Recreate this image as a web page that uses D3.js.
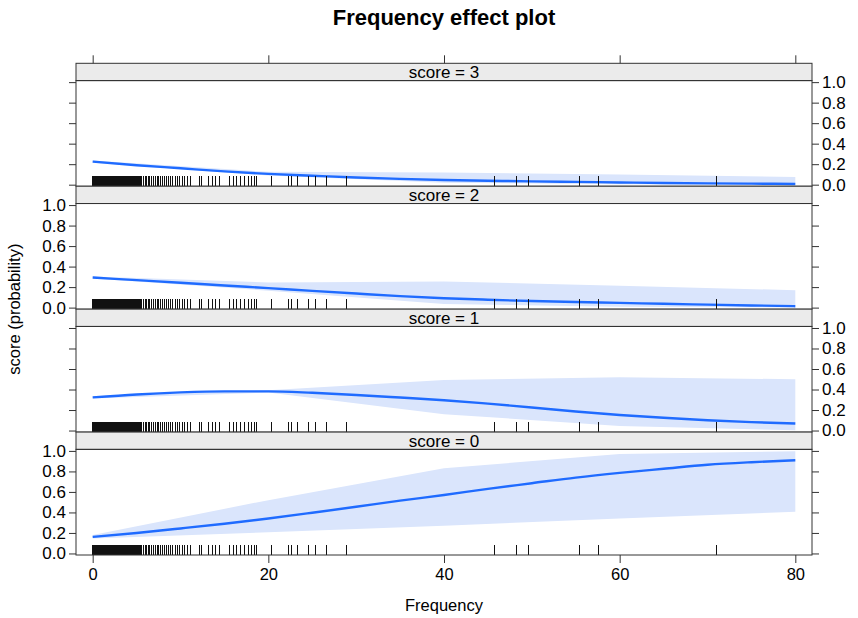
<!DOCTYPE html>
<html>
<head>
<meta charset="utf-8">
<script src="https://cdn.jsdelivr.net/npm/d3@7"></script>
<style>
  html, body { margin: 0; padding: 0; background: #fff; }
  svg { display: block; font-family: "Liberation Sans", Arial, sans-serif; }
</style>
</head>
<body>
<svg id="chart" width="858" height="618"></svg>
<script>
// ---------------- DATA ----------------
const panelLabels = ["score = 3", "score = 2", "score = 1", "score = 0"];

const xTicks = [0, 20, 40, 60, 80];
const yTicks = [0, 0.2, 0.4, 0.6, 0.8, 1.0];
const yTickLabels = ["0.0", "0.2", "0.4", "0.6", "0.8", "1.0"];

// fitted probability, read at these Frequency values
const fitFrequency = [0, 5, 10, 15, 20, 25, 30, 35, 40, 45, 50, 55, 60, 65, 70, 75, 80];
const fitScore3 = [0.225, 0.19, 0.16, 0.13, 0.105, 0.087, 0.07, 0.057, 0.046, 0.039, 0.032, 0.027, 0.022, 0.017, 0.013, 0.01, 0.007];
const fitScore2 = [0.293, 0.268, 0.243, 0.216, 0.19, 0.163, 0.137, 0.112, 0.092, 0.077, 0.064, 0.054, 0.046, 0.037, 0.029, 0.021, 0.014];
const fitScore1 = [0.323, 0.352, 0.372, 0.382, 0.382, 0.368, 0.347, 0.322, 0.296, 0.262, 0.225, 0.185, 0.152, 0.124, 0.1, 0.082, 0.068];
const fitScore0 = [0.162, 0.2, 0.244, 0.29, 0.341, 0.397, 0.455, 0.515, 0.57, 0.63, 0.685, 0.74, 0.786, 0.826, 0.865, 0.89, 0.909];

// confidence band, read at these Frequency values
const bandFrequency = [0, 20, 40, 60, 80];
const upperScore3 = [0.235, 0.125, 0.12, 0.1, 0.075];
const lowerScore3 = [0.213, 0.09, 0.02, 0.005, 0.001];
const upperScore2 = [0.303, 0.245, 0.255, 0.212, 0.17];
const lowerScore2 = [0.283, 0.165, 0.035, 0.008, 0.002];
const upperScore1 = [0.333, 0.392, 0.494, 0.52, 0.5];
const lowerScore1 = [0.313, 0.37, 0.16, 0.045, 0.003];
const upperScore0 = [0.18, 0.52, 0.83, 0.97, 0.997];
const lowerScore0 = [0.146, 0.207, 0.27, 0.341, 0.406];

// observed Frequency values (rug)
const rugFrequency = [
  0, 0.1, 0.2, 0.3, 0.4, 0.5, 0.6, 0.7, 0.8, 0.9, 1.0, 1.1, 1.2, 1.3, 1.4, 1.5, 1.6, 1.7, 1.8, 1.9,
  2.0, 2.1, 2.2, 2.3, 2.4, 2.5, 2.6, 2.7, 2.8, 2.9, 3.0, 3.1, 3.2, 3.3, 3.4, 3.5, 3.6, 3.7, 3.8, 3.9,
  4.0, 4.1, 4.2, 4.3, 4.4, 4.5, 4.6, 4.7, 4.8, 4.9, 5.0, 5.1, 5.2, 5.3, 5.4, 5.5, 5.6, 5.8,
  6.0, 6.1, 6.3, 6.5, 6.7, 6.9, 7.2, 7.4, 7.5, 7.7, 7.9, 8.0, 8.2, 8.4, 8.6, 8.9, 9.1, 9.4, 9.6,
  9.9, 10.2, 10.5, 10.8, 11.1,
  12.2, 12.4, 13.2, 13.6, 14.0, 14.4, 15.6, 16.0, 16.4, 16.8, 17.3, 17.7, 18.1, 18.4, 18.6,
  20.4, 22.3, 22.6, 23.3, 24.6, 25.4, 26.6, 28.9, 45.8, 48.2, 49.6, 55.4, 57.6, 71.0
];

const panelFits = [fitScore3, fitScore2, fitScore1, fitScore0];
const panelUpper = [upperScore3, upperScore2, upperScore1, upperScore0];
const panelLower = [lowerScore3, lowerScore2, lowerScore1, lowerScore0];

// ---------------- LAYOUT ----------------
(function draw() {
const svg = d3.select("#chart");
const leftX = 76, rightX = 812, topY = 63.3, bottomY = 555;
const panelH = (bottomY - topY) / 4;
const stripH = 17.3;
const plotH = panelH - stripH;

const lineColor = "#1f6bff";
const bandColor = "#dae5fc";
const frameColor = "#333333";
const font = 16.5;
const stripFont = 17;
const yFont = 17;
const xFont = 16.5;

const x = d3.scaleLinear().domain([-1.9, 81.9]).range([leftX, rightX]);

// title
svg.append("text")
  .attr("x", (leftX + rightX) / 2).attr("y", 25)
  .attr("text-anchor", "middle")
  .attr("font-weight", "bold").attr("font-size", 22)
  .text("Frequency effect plot");

const defs = svg.append("defs");

panelLabels.forEach((label, i) => {
  const pTop = topY + i * panelH;
  const plotTop = pTop + stripH;
  const plotBottom = pTop + panelH;
  const y = d3.scaleLinear().domain([-0.015, 1.015]).range([plotBottom, plotTop]);

  // strip
  svg.append("rect")
    .attr("x", leftX).attr("y", pTop).attr("width", rightX - leftX).attr("height", stripH)
    .attr("fill", "#ebebeb").attr("stroke", frameColor).attr("stroke-width", 1);
  svg.append("text")
    .attr("x", (leftX + rightX) / 2).attr("y", pTop + stripH - 2.6)
    .attr("text-anchor", "middle").attr("font-size", stripFont)
    .text(label);

  // clip
  const cid = "clip" + i;
  defs.append("clipPath").attr("id", cid)
    .append("rect").attr("x", leftX).attr("y", plotTop).attr("width", rightX - leftX).attr("height", plotH);

  const g = svg.append("g").attr("clip-path", `url(#${cid})`);

  // band
  const bandData = bandFrequency.map((f, k) => ({ f, lo: panelLower[i][k], hi: panelUpper[i][k] }));
  g.append("path")
    .datum(bandData)
    .attr("fill", bandColor)
    .attr("d", d3.area().x(d => x(d.f)).y0(d => y(d.lo)).y1(d => y(d.hi)));

  // fitted line
  const fitData = fitFrequency.map((f, k) => ({ f, p: panelFits[i][k] }));
  g.append("path")
    .datum(fitData)
    .attr("fill", "none").attr("stroke", lineColor).attr("stroke-width", 2.4)
    .attr("d", d3.line().x(d => x(d.f)).y(d => y(d.p)).curve(d3.curveMonotoneX));

  // rug
  g.selectAll("line.rug").data(rugFrequency).enter().append("line")
    .attr("class", "rug")
    .attr("x1", d => x(d)).attr("x2", d => x(d))
    .attr("y1", plotBottom).attr("y2", plotBottom - 10.5)
    .attr("stroke", "#111").attr("stroke-width", 1)
    .attr("shape-rendering", "crispEdges");

  // plot frame
  svg.append("rect")
    .attr("x", leftX).attr("y", plotTop).attr("width", rightX - leftX).attr("height", plotH)
    .attr("fill", "none").attr("stroke", frameColor).attr("stroke-width", 1);

  // y axis: alternating sides
  const labelsRight = (i % 2 === 0);
  const yAxisL = d3.axisLeft(y).tickValues(yTicks).tickSize(7).tickPadding(3)
    .tickFormat((d, k) => labelsRight ? "" : yTickLabels[k]);
  const yAxisR = d3.axisRight(y).tickValues(yTicks).tickSize(7).tickPadding(3)
    .tickFormat((d, k) => labelsRight ? yTickLabels[k] : "");
  const gl = svg.append("g").attr("transform", `translate(${leftX},0)`).call(yAxisL);
  const gr = svg.append("g").attr("transform", `translate(${rightX},0)`).call(yAxisR);
  [gl, gr].forEach(ax => {
    ax.select(".domain").remove();
    ax.selectAll(".tick line").attr("stroke", frameColor);
    ax.selectAll(".tick text").attr("font-size", yFont).attr("fill", "#000")
      .attr("font-family", "Liberation Sans, Arial, sans-serif");
  });
});

// top x ticks (no labels)
const xTop = svg.append("g").attr("transform", `translate(0,${topY})`)
  .call(d3.axisTop(x).tickValues(xTicks).tickSize(8).tickFormat(""));
xTop.select(".domain").remove();
xTop.selectAll(".tick line").attr("stroke", frameColor);

// bottom x axis
const xBot = svg.append("g").attr("transform", `translate(0,${bottomY})`)
  .call(d3.axisBottom(x).tickValues(xTicks).tickSize(8).tickPadding(5).tickFormat(d3.format("d")));
xBot.select(".domain").remove();
xBot.selectAll(".tick line").attr("stroke", frameColor);
xBot.selectAll(".tick text").attr("font-size", xFont).attr("fill", "#000")
  .attr("font-family", "Liberation Sans, Arial, sans-serif");

// axis titles
svg.append("text")
  .attr("x", (leftX + rightX) / 2).attr("y", 611)
  .attr("text-anchor", "middle").attr("font-size", font)
  .text("Frequency");
svg.append("text")
  .attr("transform", `translate(20,${(topY + bottomY) / 2}) rotate(-90)`)
  .attr("text-anchor", "middle").attr("font-size", font)
  .text("score (probability)");
})();
</script>
</body>
</html>
